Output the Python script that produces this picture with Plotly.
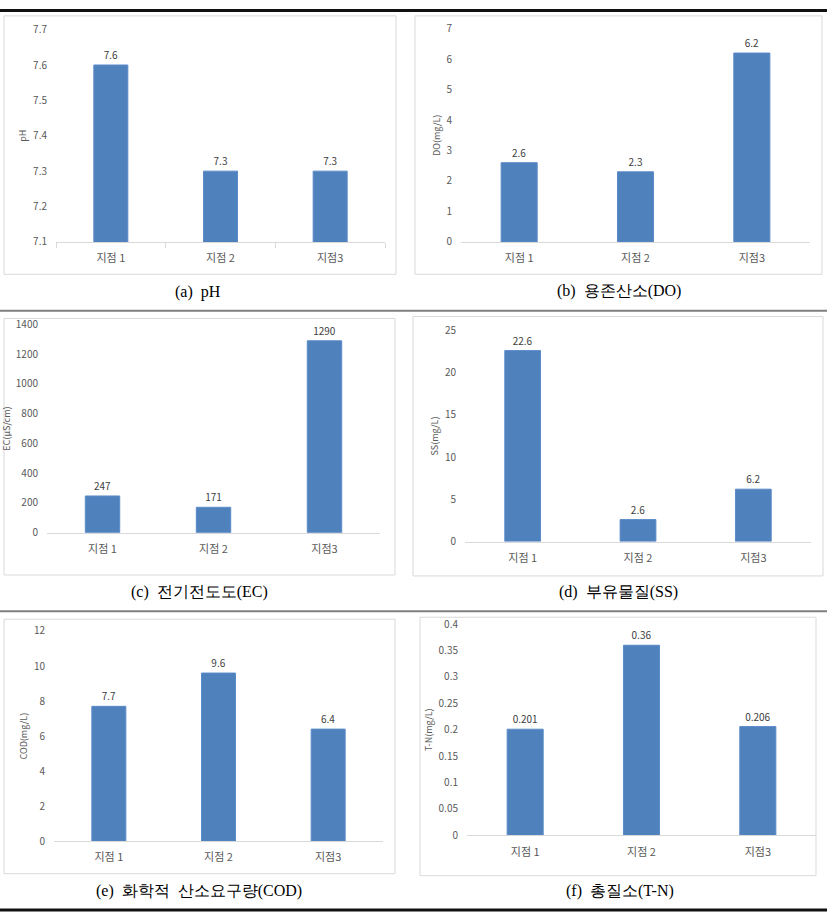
import plotly.graph_objects as go

W, H = 827, 920

categories = ["지점 1", "지점 2", "지점3"]

ph_values = [7.6, 7.3, 7.3]
ph_labels = ["7.6", "7.3", "7.3"]
do_values = [2.6, 2.3, 6.2]
do_labels = ["2.6", "2.3", "6.2"]
ec_values = [247, 171, 1290]
ec_labels = ["247", "171", "1290"]
ss_values = [22.6, 2.6, 6.2]
ss_labels = ["22.6", "2.6", "6.2"]
cod_values = [7.7, 9.6, 6.4]
cod_labels = ["7.7", "9.6", "6.4"]
tn_values = [0.201, 0.36, 0.206]
tn_labels = ["0.201", "0.36", "0.206"]

ph_ticks = [7.1, 7.2, 7.3, 7.4, 7.5, 7.6, 7.7]
ph_ticktext = ["7.1", "7.2", "7.3", "7.4", "7.5", "7.6", "7.7"]
do_ticks = [0, 1, 2, 3, 4, 5, 6, 7]
ec_ticks = [0, 200, 400, 600, 800, 1000, 1200, 1400]
ss_ticks = [0, 5, 10, 15, 20, 25]
cod_ticks = [0, 2, 4, 6, 8, 10, 12]
tn_ticks = [0, 0.05, 0.1, 0.15, 0.2, 0.25, 0.3, 0.35, 0.4]
tn_ticktext = ["0", "0.05", "0.1", "0.15", "0.2", "0.25", "0.3", "0.35", "0.4"]

y_titles = ["pH", "DO(mg/L)", "EC(µS/cm)", "SS(mg/L)", "COD(mg/L)", "T-N(mg/L)"]
captions = ["(a)  pH", "(b)  용존산소(DO)", "(c)  전기전도도(EC)",
            "(d)  부유물질(SS)", "(e)  화학적  산소요구량(COD)", "(f)  총질소(T-N)"]

panels = [
    dict(vals=ph_values, labels=ph_labels, rng=[7.1, 7.7], tv=ph_ticks, tt=ph_ticktext,
         px=(56, 385), py=(21, 237), box=(4, 7, 396, 270), cap=(198, 288), ticks=True),
    dict(vals=do_values, labels=do_labels, rng=[0, 7], tv=do_ticks, tt=[str(v) for v in do_ticks],
         px=(461, 810), py=(20, 237), box=(415, 7, 822, 270), cap=(619, 287), ticks=False),
    dict(vals=ec_values, labels=ec_labels, rng=[0, 1400], tv=ec_ticks, tt=[str(v) for v in ec_ticks],
         px=(47, 380), py=(321, 533), box=(4, 315, 395, 576), cap=(199, 593), ticks=False),
    dict(vals=ss_values, labels=ss_labels, rng=[0, 25], tv=ss_ticks, tt=[str(v) for v in ss_ticks],
         px=(465, 811), py=(327, 542), box=(413, 313, 823, 577), cap=(618, 593), ticks=False),
    dict(vals=cod_values, labels=cod_labels, rng=[0, 12], tv=cod_ticks, tt=[str(v) for v in cod_ticks],
         px=(54, 383), py=(633, 847), box=(4, 621, 395, 880), cap=(199, 898), ticks=False),
    dict(vals=tn_values, labels=tn_labels, rng=[0, 0.4], tv=tn_ticks, tt=tn_ticktext,
         px=(467, 816), py=(626, 841), box=(420, 619, 816, 882), cap=(620, 898), ticks=False),
]

FONT = "Noto Sans CJK KR"
SERIF = "Liberation Serif"
BAR = "#4F81BD"
BAR_LINE = "#5B8BC9"
GRID = "#D9D9D9"
TXT = "#595959"

fig = go.Figure()
layout = dict(
    width=W, height=H, margin=dict(l=0, r=0, t=0, b=0),
    paper_bgcolor="white", plot_bgcolor="white", showlegend=False,
    bargap=0.69, shapes=[], annotations=[],
)

def fx(p):
    return p / W

def fy(p):
    return 1 - p / H

for i, p in enumerate(panels):
    n = i + 1
    xa = "x" if n == 1 else f"x{n}"
    ya = "y" if n == 1 else f"y{n}"
    fig.add_trace(go.Bar(
        x=categories, y=p["vals"], text=p["labels"], textposition="outside",
        cliponaxis=False,
        textfont=dict(family=FONT, size=10, color="#404040"),
        marker=dict(color=BAR, line=dict(color=BAR_LINE, width=1)),
        xaxis=xa, yaxis=ya, hoverinfo="skip",
    ))
    x0, y0, x1, y1 = p["box"]
    layout["shapes"].append(dict(type="rect", xref="paper", yref="paper",
                                 x0=fx(x0), x1=fx(x1), y0=fy(y1), y1=fy(y0),
                                 line=dict(color=GRID, width=1), layer="below"))
    xkey = "xaxis" if n == 1 else f"xaxis{n}"
    ykey = "yaxis" if n == 1 else f"yaxis{n}"
    layout[xkey] = dict(
        domain=[fx(p["px"][0]), fx(p["px"][1])], anchor=ya,
        type="category", showgrid=False, showline=True, linecolor=GRID, linewidth=1,
        ticks="outside" if p["ticks"] else "", tickson="boundaries",
        ticklen=5, tickcolor=GRID,
        tickfont=dict(family=FONT, size=11, color=TXT), ticklabelstandoff=6,
        fixedrange=True,
    )
    layout[ykey] = dict(
        domain=[fy(p["py"][1]), fy(p["py"][0])], anchor=xa,
        range=p["rng"], tickvals=p["tv"], ticktext=p["tt"],
        showgrid=False, showline=False, zeroline=False, ticks="",
        tickfont=dict(family=FONT, size=10, color=TXT), ticklabelstandoff=8,
        title=dict(text=y_titles[i], font=dict(family=FONT, size=9, color=TXT), standoff=4),
        fixedrange=True,
    )
    cx, cy = p["cap"]
    layout["annotations"].append(dict(
        text=captions[i], xref="paper", yref="paper", x=fx(cx), y=fy(cy),
        xanchor="center", yanchor="middle", showarrow=False,
        font=dict(family=SERIF, size=16, color="black"),
    ))

for yy, col, wd in [(1.5, "#111111", 3), (307, "#7F7F7F", 2), (613, "#7F7F7F", 2), (917, "#111111", 3)]:
    layout["shapes"].append(dict(type="line", xref="paper", yref="paper",
                                 x0=0, x1=1, y0=fy(yy), y1=fy(yy),
                                 line=dict(color=col, width=wd)))

fig.update_layout(**layout)

PAGE_JS = (
    "document.documentElement.style.margin='0';"
    "document.documentElement.style.padding='0';"
    "document.documentElement.style.overflow='hidden';"
    "document.body.style.margin='0';"
    "document.body.style.padding='0';"
    "document.body.style.overflow='hidden';"
    "var g=document.getElementsByClassName('plotly-graph-div')[0];"
    "g.style.position='fixed';g.style.top='0px';g.style.left='0px';"
)

fig.write_html("out.html", config={"displayModeBar": False}, post_script=PAGE_JS)
